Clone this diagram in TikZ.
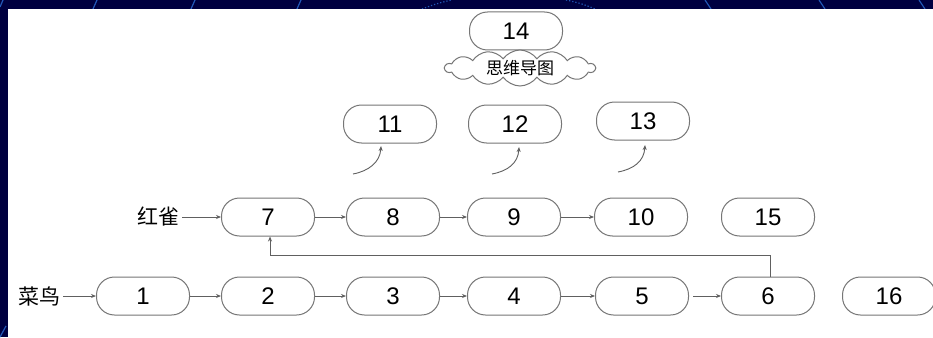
\documentclass[tikz,border=0pt]{standalone}
\usepackage{fontspec}
\setmainfont{Liberation Sans}
\newfontfamily\cjk{Noto Sans CJK SC}
\usetikzlibrary{shapes.symbols,arrows.meta}
\definecolor{navy}{HTML}{000040}
\definecolor{deco}{HTML}{2358B8}
\definecolor{edge}{HTML}{767676}
\definecolor{arrc}{HTML}{606060}
\begin{document}
\begin{tikzpicture}[x=1pt,y=-1pt,
 box/.style={draw=edge, line width=1pt, rounded corners=18pt, minimum width=93pt, minimum height=38pt, fill=white, inner sep=0pt, font=\fontsize{24}{24}\selectfont},
 lbl/.style={font=\cjk\fontsize{21}{21}\selectfont, inner sep=2pt},
 arr/.style={draw=arrc, line width=0.9pt, -{Stealth[length=5pt,width=4pt]}},
 decoline/.style={draw=deco, line width=1.2pt},
]
\useasboundingbox (0,0) rectangle (933,337);
\fill[navy] (0,0) rectangle (933,337);
% background decoration in the frame
\draw[decoline] (0,7) -- (3,0);
\draw[decoline] (93,9) -- (97,0);
\draw[decoline] (191,9) -- (195,0);
\draw[decoline] (297,9) -- (301,0);
\draw[decoline, dotted] (422,9) .. controls (432,5) and (442,2) .. (452,0);
\draw[decoline, dotted] (566,0) .. controls (576,2) and (586,5) .. (595,9);
\draw[decoline] (705,0) -- (711,9);
\draw[decoline] (819,0) -- (825,9);
\draw[decoline] (919,0) -- (925,9);
\draw[decoline] (0,337) -- (6,326);
\fill[white] (8,9) rectangle (933,337);

% top
\node[box] (n14) at (516,31) {14};
\node[cloud, cloud puffs=14, cloud puff arc=110, aspect=4.2, draw=edge, line width=1pt, fill=white, minimum width=150pt, minimum height=36pt, inner sep=0pt, font=\cjk\fontsize{17}{17}\selectfont] (cl) at (520,68) {思维导图};

% row of 11..13
\node[box] (n11) at (390,124) {11};
\node[box] (n12) at (515,124) {12};
\node[box] (n13) at (643,121) {13};

\coordinate (s11) at (353,174); \coordinate (e11) at (381,146);
\coordinate (s12) at (492,174); \coordinate (e12) at (519,147);
\coordinate (s13) at (618,172); \coordinate (e13) at (645,145);
\draw[arr] (s11) .. controls (369,171) and (380,162) .. (e11);
\draw[arr] (s12) .. controls (508,171) and (518,163) .. (e12);
\draw[arr] (s13) .. controls (634,169) and (644,161) .. (e13);

% middle row
\node[lbl, anchor=east] (hq) at (182,217) {红雀};
\node[box] (n7) at (268,217) {7};
\node[box] (n8) at (393,217) {8};
\node[box] (n9) at (514,217) {9};
\node[box] (n10) at (641,217) {10};
\node[box] (n15) at (768,217) {15};

% bottom row
\node[lbl, anchor=east] (cn) at (63,296) {菜鸟};
\node[box] (n1) at (143,296) {1};
\node[box] (n2) at (268,296) {2};
\node[box] (n3) at (393,296) {3};
\node[box] (n4) at (514,296) {4};
\node[box] (n5) at (642,296) {5};
\node[box] (n6) at (768,296) {6};
\node[box] (n16) at (889,296) {16};

\draw[arr] (hq) -- (n7);
\draw[arr] (n7) -- (n8);
\draw[arr] (n8) -- (n9);
\draw[arr] (n9) -- (n10);

\draw[arr] (cn) -- (n1);
\draw[arr] (n1) -- (n2);
\draw[arr] (n2) -- (n3);
\draw[arr] (n3) -- (n4);
\draw[arr] (n4) -- (n5);
\draw[arr] ([xshift=4pt]n5.east) -- (n6);

\draw[arr] ([xshift=2pt]n6.north) -- ++(0,-21) -| ([xshift=2pt]n7.south);
\end{tikzpicture}
\end{document}
